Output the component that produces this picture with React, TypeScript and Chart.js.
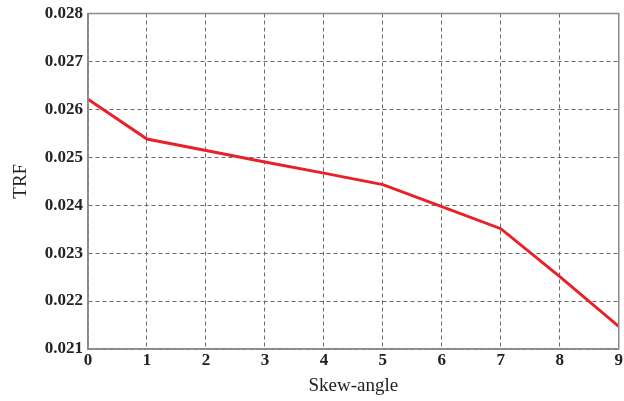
import React, { useEffect, useRef } from "react";
import { Chart, registerables } from "chart.js";

Chart.register(...registerables);

const skewAngles = [0, 1, 2, 3, 4, 5, 6, 7, 8, 9];
const trfValues = [0.02621, 0.02538, 0.02514, 0.0249, 0.02467, 0.02443, 0.02397, 0.02351, 0.02251, 0.02147];
const yTicks = [0.021, 0.022, 0.023, 0.024, 0.025, 0.026, 0.027, 0.028];

const frame = {
  id: "frame",
  afterDraw(chart: any) {
    const { ctx, chartArea } = chart;
    ctx.save();
    ctx.strokeStyle = "#8a8a8a";
    ctx.lineWidth = 1.5;
    ctx.strokeRect(chartArea.left, chartArea.top, chartArea.right - chartArea.left, chartArea.bottom - chartArea.top);
    ctx.restore();
  },
};

export default function App() {
  const ref = useRef<HTMLCanvasElement>(null);
  useEffect(() => {
    document.body.style.margin = "0";
    const serif = "'Liberation Serif', 'Times New Roman', serif";
    const chart = new Chart(ref.current!, {
      type: "line",
      data: {
        datasets: [
          {
            data: skewAngles.map((x, i) => ({ x, y: trfValues[i] })),
            borderColor: "#e8202a",
            borderWidth: 3,
            pointRadius: 0,
            tension: 0,
          },
        ],
      },
      options: {
        animation: false,
        responsive: false,
        layout: { padding: { top: 13, right: 5, left: 0, bottom: 0 } },
        plugins: { legend: { display: false }, tooltip: { enabled: false } },
        scales: {
          x: {
            type: "linear",
            min: 0,
            max: 9,
            ticks: {
              stepSize: 1,
              color: "#222",
              font: { family: serif, size: 17, weight: "bold" },
              padding: 1,
            },
            grid: { color: "#6a6a6a", lineWidth: 1, drawTicks: false },
            border: { display: true, color: "#8a8a8a", width: 1.5, dash: [4, 3] },
            title: {
              display: true,
              text: "Skew-angle",
              color: "#222",
              font: { family: serif, size: 19 },
              padding: { top: 6, bottom: 4 },
            },
            afterFit: (s: any) => {
              s.height = 52;
            },
          },
          y: {
            type: "linear",
            min: 0.021,
            max: 0.028,
            afterBuildTicks: (s: any) => {
              s.ticks = yTicks.map((v) => ({ value: v }));
            },
            ticks: {
              color: "#222",
              font: { family: serif, size: 17, weight: "bold", lineHeight: 1 },
              padding: 5,
              callback: (v: any) => Number(v).toFixed(3),
            },
            grid: { color: "#6a6a6a", lineWidth: 1, drawTicks: false },
            border: { display: true, color: "#8a8a8a", width: 1.5, dash: [4, 3] },
            title: {
              display: true,
              text: "TRF",
              color: "#222",
              font: { family: serif, size: 19 },
              padding: { top: 10, bottom: 0 },
            },
            afterFit: (s: any) => {
              s.width = 88;
            },
          },
        },
      },
      plugins: [frame],
    });
    return () => chart.destroy();
  }, []);
  return <canvas ref={ref} width={624} height={401} style={{ display: "block" }} />;
}
